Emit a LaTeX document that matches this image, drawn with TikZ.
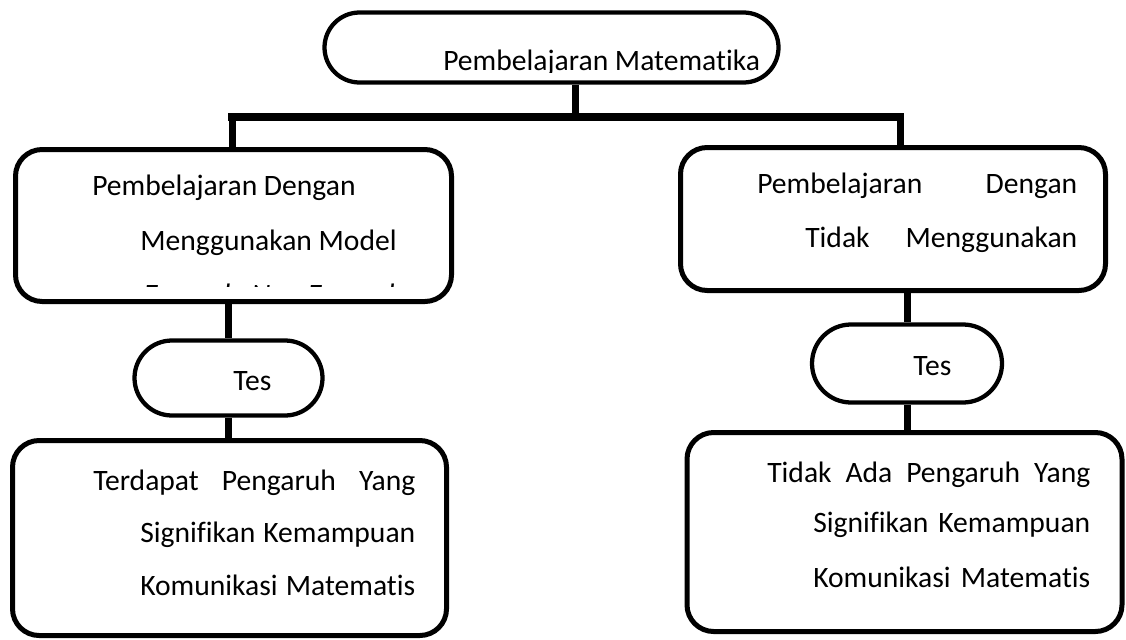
\documentclass[tikz,border=0pt]{standalone}
\usepackage{fontspec}
\setmainfont{Carlito}[Ligatures=NoCommon]
\usepackage{tikz}
\usetikzlibrary{shapes.misc,calc}

\begin{document}
\begin{tikzpicture}[x=0.75pt,y=-0.75pt,
  box/.style={draw,line width=3.75pt,rounded corners=20pt,inner sep=0pt},
  pill/.style={draw,rounded rectangle,line width=3.2pt,inner sep=0pt},
  txt/.style={anchor=base west,inner sep=0pt,font=\fontsize{22.2}{26}\selectfont},
  link/.style={line width=5.25pt},
  bar/.style={line width=6pt}
]
\useasboundingbox (0,0) rectangle (1126,639);
\node[pill,minimum width=340.5pt,minimum height=52.5pt] (pembelajaran) at (551.5,47.5) {};
\node[box,minimum width=327pt,minimum height=114pt] (model) at (233.5,225.5) {};
\node[box,minimum width=318.75pt,minimum height=107.25pt] (nonmodel) at (893,219) {};
\node[pill,minimum width=141pt,minimum height=56.25pt] (tesmodel) at (228.5,378) {};
\node[pill,minimum width=142.5pt,minimum height=58.5pt] (tesnon) at (907,363.5) {};
\node[box,minimum width=325.5pt,minimum height=146.25pt] (pengaruh) at (229.5,538) {};
\node[box,minimum width=326.25pt,minimum height=149.25pt] (tidakpengaruh) at (904.5,532) {};

\begin{scope}
  \clip (430,30) rectangle (780,72);
  \node[txt] (judul) at (443,70) {Pembelajaran Matematika};
\end{scope}
\node[txt] (modelA) at (92,195) {Pembelajaran Dengan};
\node[txt] (modelB) at (140,250) {Menggunakan Model};
\begin{scope}
  \clip (100,270) rectangle (420,286.5);
  \node[txt,font=\fontsize{22.2}{26}\selectfont\itshape] (modelC) at (143,304) {Example Non Example};
\end{scope}
\node[txt] (nonA) at (757,193) {\makebox[240pt][s]{Pembelajaran Dengan}};
\node[txt] (nonB) at (805,247) {\makebox[204pt][s]{Tidak Menggunakan}};
\node[txt] (tesA) at (233,390) {Tes};
\node[txt] (tesB) at (913,375) {Tes};
\node[txt] (pengA) at (93,490) {\makebox[241.5pt][s]{Terdapat Pengaruh Yang}};
\node[txt] (pengB) at (140,542) {\makebox[206.25pt][s]{Signifikan Kemampuan}};
\node[txt] (pengC) at (140,595) {\makebox[206.25pt][s]{Komunikasi Matematis}};
\node[txt] (tidakA) at (767,482) {\makebox[242.25pt][s]{Tidak Ada Pengaruh Yang}};
\node[txt] (tidakB) at (813,532) {\makebox[207.75pt][s]{Signifikan Kemampuan}};
\node[txt] (tidakC) at (813,587) {\makebox[207.75pt][s]{Komunikasi Matematis}};

\coordinate (barL) at (228,117);
\coordinate (barR) at (904,117);
\coordinate (trunk) at (575,117);
\coordinate (dropL) at (232,117);
\coordinate (dropR) at (900,117);
\draw[bar] (barL) -- (barR);
\draw[link] (trunk |- pembelajaran.south) -- (trunk);
\draw[link] (dropL) -- (dropL |- model.north);
\draw[link] (dropR) -- (dropR |- nonmodel.north);
\draw[link] (tesmodel.north |- model.south) -- (tesmodel.north);
\draw[link] (tesmodel.south) -- (tesmodel.south |- pengaruh.north);
\draw[link] (tesnon.north |- nonmodel.south) -- (tesnon.north);
\draw[link] (tesnon.south) -- (tesnon.south |- tidakpengaruh.north);
\end{tikzpicture}
\end{document}
